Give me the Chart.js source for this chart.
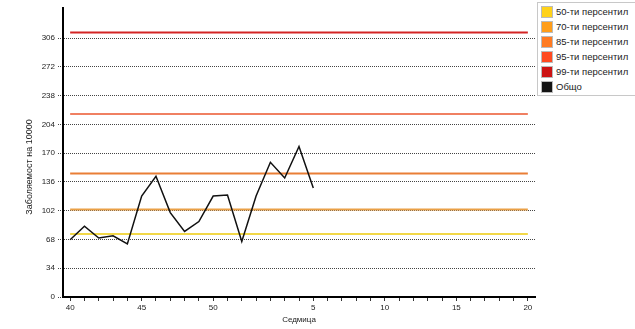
<!DOCTYPE html>
<html>
<head>
<meta charset="utf-8">
<script src="https://cdn.jsdelivr.net/npm/chart.js@4.4.1/dist/chart.umd.min.js"></script>
<style>
  html, body { margin: 0; padding: 0; background: #fff; }
  #wrap { position: relative; width: 635px; height: 329px; overflow: hidden; }
  #c { position: absolute; left: 0; top: 0; }
  #legend { position: absolute; left: 537px; top: 2px; width: 97px; border: 1px solid #c8c8c8;
            font-family: 'Liberation Sans', Arial, sans-serif; font-size: 9.5px; color: #222; padding: 1px 0; }
  .item { display: flex; align-items: center; height: 15px; }
  .sw { width: 12px; height: 12px; margin: 0 3px 0 3px; border: 1px solid #bbb; box-sizing: border-box; }
</style>
</head>
<body>
<div id="wrap">
  <canvas id="c" width="537" height="329"></canvas>
  <div id="legend"></div>
</div>
<script>
// Weeks (categories)
const weeks = ['40','41','42','43','44','45','46','47','48','49','50','51','52',
               '1','2','3','4','5','6','7','8','9','10','11','12','13','14','15','16','17','18','19','20'];
// Total incidence per 10000 (weeks 40..5)
const totalValues = [67.7, 83.8, 69.7, 72.4, 62.7, 119.4, 142.8, 99.8, 77.5, 89.2, 119.4, 120.5, 65.7,
                     119.4, 159.3, 140.8, 178.0, 129.0];
// Percentile thresholds
const p50 = 74.4;
const p70 = 103.5;
const p85 = 146.0;
const p95 = 216.4;
const p99 = 312.7;
// Y tick labels
const yTicks = [0, 34, 68, 102, 136, 170, 204, 238, 272, 306];

const seriesNames = ['50-ти персентил','70-ти персентил','85-ти персентил','95-ти персентил','99-ти персентил','Общо'];
const swatchColors = ['#ffd21a','#ff9e1a','#ff7b22','#ff4a20','#cc1414','#141414'];
const lineColors = ['#f2d848','#eaa046','#e97e36','#f08062','#d42424','#111111'];

const first = weeks[0], last = weeks[weeks.length - 1];
function flat(v) { return [{x: first, y: v}, {x: last, y: v}]; }

const FONT = "'Liberation Sans', Arial, sans-serif";

const datasets = [
  { label: seriesNames[5], data: totalValues, borderColor: lineColors[5], borderWidth: 1.5, order: 0 },
  { label: seriesNames[0], data: flat(p50), borderColor: lineColors[0], borderWidth: 2, order: 1 },
  { label: seriesNames[1], data: flat(p70), borderColor: lineColors[1], borderWidth: 2, order: 1 },
  { label: seriesNames[2], data: flat(p85), borderColor: lineColors[2], borderWidth: 2, order: 1 },
  { label: seriesNames[3], data: flat(p95), borderColor: lineColors[3], borderWidth: 2, order: 1 },
  { label: seriesNames[4], data: flat(p99), borderColor: lineColors[4], borderWidth: 2, order: 1 }
];
datasets.forEach(d => { d.pointRadius = 0; d.tension = 0; d.fill = false; });

const yTitlePlugin = {
  id: 'yTitle',
  afterDraw(chart) {
    const ctx = chart.ctx;
    ctx.save();
    ctx.translate(30, 167);
    ctx.rotate(-Math.PI / 2);
    ctx.font = '9px ' + FONT;
    ctx.fillStyle = '#222';
    ctx.textAlign = 'center';
    ctx.textBaseline = 'middle';
    ctx.fillText('Заболяемост на 10000', 0, 0);
    ctx.restore();
  }
};

new Chart(document.getElementById('c'), {
  type: 'line',
  data: { labels: weeks, datasets: datasets },
  options: {
    responsive: false,
    animation: false,
    layout: { padding: { left: 0, right: 2, top: 5, bottom: 0 } },
    plugins: { legend: { display: false }, tooltip: { enabled: false } },
    scales: {
      x: {
        type: 'category',
        offset: true,
        border: { color: '#000', width: 2 },
        grid: { drawOnChartArea: false, drawTicks: true, tickLength: 4, color: '#333' },
        ticks: {
          autoSkip: false, maxRotation: 0, padding: 2,
          color: '#222', font: { family: FONT, size: 8 },
          callback: function(v, i) { const w = parseInt(weeks[i], 10); return w % 5 === 0 ? weeks[i] : ''; }
        },
        title: { display: true, text: 'Седмица', color: '#222', font: { family: FONT, size: 8 }, padding: { top: 3, bottom: 4 } },
        afterFit: s => { s.height = 32; }
      },
      y: {
        min: 0, max: 342,
        afterBuildTicks: s => { s.ticks = yTicks.map(v => ({ value: v })); },
        border: { color: '#000', width: 2, dash: [1, 1] },
        grid: { color: '#444', lineWidth: 1, tickLength: 5, tickBorderDash: [1, 1] },
        ticks: { color: '#222', font: { family: FONT, size: 8 }, padding: 3 },
        afterFit: s => { s.width = 63; }
      }
    }
  },
  plugins: [yTitlePlugin]
});

const lg = document.getElementById('legend');
seriesNames.forEach((n, i) => {
  const it = document.createElement('div');
  it.className = 'item';
  const sw = document.createElement('div');
  sw.className = 'sw';
  sw.style.background = swatchColors[i];
  const tx = document.createElement('span');
  tx.textContent = n;
  it.appendChild(sw); it.appendChild(tx);
  lg.appendChild(it);
});
</script>
</body>
</html>
